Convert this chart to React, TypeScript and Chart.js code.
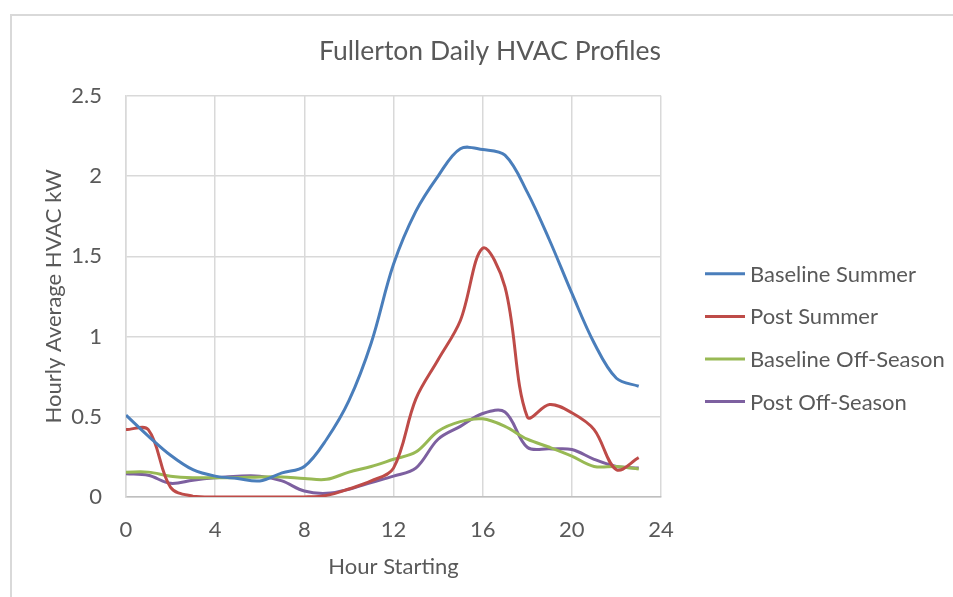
import React, { useEffect, useRef } from "react";
import { Chart, registerables } from "chart.js";

Chart.register(...registerables);

const hours = [0, 1, 2, 3, 4, 5, 6, 7, 8, 9, 10, 11, 12, 13, 14, 15, 16, 17, 18, 19, 20, 21, 22, 23];
const baselineSummer = [0.51, 0.38, 0.26, 0.17, 0.13, 0.115, 0.1, 0.15, 0.19, 0.36, 0.6, 0.96, 1.45, 1.78, 2.0, 2.17, 2.165, 2.13, 1.9, 1.6, 1.27, 0.96, 0.74, 0.69];
const postSummer = [0.42, 0.42, 0.06, 0.005, 0, 0, 0, 0, 0, 0.01, 0.05, 0.1, 0.18, 0.61, 0.855, 1.1, 1.55, 1.31, 0.5, 0.576, 0.525, 0.42, 0.17, 0.245];
const baselineOffSeason = [0.155, 0.155, 0.13, 0.12, 0.12, 0.12, 0.125, 0.125, 0.115, 0.11, 0.155, 0.19, 0.235, 0.28, 0.41, 0.47, 0.487, 0.44, 0.36, 0.31, 0.255, 0.19, 0.19, 0.175];
const postOffSeason = [0.145, 0.135, 0.085, 0.105, 0.12, 0.13, 0.13, 0.1, 0.037, 0.023, 0.048, 0.09, 0.13, 0.18, 0.36, 0.44, 0.52, 0.53, 0.31, 0.3, 0.296, 0.235, 0.19, 0.18];

const seriesNames = ["Baseline Summer", "Post Summer", "Baseline Off-Season", "Post Off-Season"];
const seriesColors = ["#4a7ebb", "#be4b48", "#98b954", "#7d60a0"];
const seriesValues = [baselineSummer, postSummer, baselineOffSeason, postOffSeason];

const FONT = "Lato, 'Open Sans', sans-serif";
const TEXT = "#595959";

const sideLegend = {
  id: "sideLegend",
  afterDraw(chart: any) {
    const ctx = chart.ctx;
    const area = chart.chartArea;
    const x0 = area.right + 44;
    const y0 = area.top + 178;
    ctx.save();
    ctx.font = `22px ${FONT}`;
    ctx.textBaseline = "middle";
    ctx.textAlign = "left";
    chart.data.datasets.forEach((ds: any, i: number) => {
      const y = y0 + i * 42.6;
      ctx.strokeStyle = ds.borderColor;
      ctx.lineWidth = 3;
      ctx.beginPath();
      ctx.moveTo(x0, y);
      ctx.lineTo(x0 + 40, y);
      ctx.stroke();
      ctx.fillStyle = TEXT;
      ctx.fillText(ds.label, x0 + 45, y + 1);
    });
    ctx.restore();
  },
};

export default function App() {
  const ref = useRef<HTMLCanvasElement | null>(null);

  useEffect(() => {
    if (!ref.current) return;
    const chart = new Chart(ref.current, {
      type: "line",
      data: {
        datasets: seriesNames.map((name, i) => ({
          label: name,
          data: hours.map((h, j) => ({ x: h, y: seriesValues[i][j] })),
          borderColor: seriesColors[i],
          backgroundColor: seriesColors[i],
          borderWidth: 3,
          pointRadius: 0,
          tension: 0.35,
          fill: false,
        })),
      },
      options: {
        animation: false,
        responsive: false,
        devicePixelRatio: 1,
        layout: { padding: { left: 28, right: 1, top: 0, bottom: 0 } },
        plugins: {
          title: {
            display: true,
            text: "Fullerton Daily HVAC Profiles",
            color: TEXT,
            font: { family: FONT, size: 26.5, weight: "normal", lineHeight: 1.2 },
            padding: { top: 36, bottom: 28 },
          },
          legend: { display: false },
          tooltip: { enabled: false },
        },
        scales: {
          x: {
            type: "linear",
            min: 0,
            max: 24,
            ticks: { stepSize: 4, color: TEXT, padding: 20, font: { family: FONT, size: 22 } },
            grid: { color: "#d9d9d9", lineWidth: 1.5, drawTicks: false },
            border: { color: "#bfbfbf", width: 1.5 },
            title: {
              display: true,
              text: "Hour Starting",
              color: TEXT,
              font: { family: FONT, size: 22, lineHeight: 1.2 },
              padding: { top: 11, bottom: 17 },
            },
            afterFit: (s: any) => {
              s.height = 100;
            },
          },
          y: {
            type: "linear",
            min: 0,
            max: 2.5,
            ticks: {
              stepSize: 0.5,
              color: TEXT,
              padding: 24,
              font: { family: FONT, size: 22 },
              callback: (v: any) => `${Number(v)}`,
            },
            grid: { color: "#d9d9d9", lineWidth: 1.5, drawTicks: false },
            border: { color: "#d9d9d9", width: 1.5 },
            title: {
              display: true,
              text: "Hourly Average HVAC kW",
              color: TEXT,
              font: { family: FONT, size: 22, lineHeight: 1.2 },
              padding: { top: 13, bottom: 6 },
            },
            afterFit: (s: any) => {
              s.width = 98;
            },
          },
          spacer: {
            type: "linear",
            position: "right",
            display: true,
            grid: { display: false, drawOnChartArea: false },
            ticks: { display: false },
            border: { display: false },
            afterFit: (s: any) => {
              s.width = 291;
            },
          },
        },
      } as any,
      plugins: [sideLegend],
    });
    return () => chart.destroy();
  }, []);

  return (
    <div style={{ position: "fixed", left: 0, top: 0, width: 953, height: 597, background: "#fff", overflow: "hidden" }}>
      <div
        style={{
          position: "absolute",
          left: 10,
          top: 14,
          width: 1000,
          height: 700,
          border: "2px solid #d9d9d9",
          boxSizing: "border-box",
        }}
      />
      <canvas ref={ref} width={953} height={597} style={{ position: "absolute", left: 0, top: 0, width: 953, height: 597 }} />
    </div>
  );
}
